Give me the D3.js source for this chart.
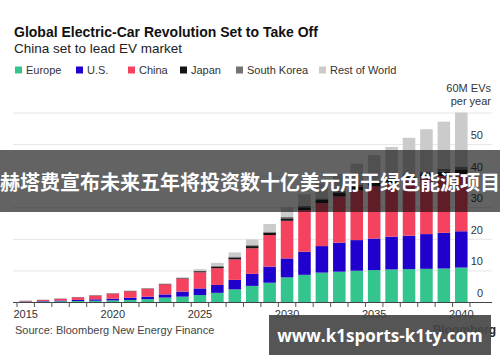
<!DOCTYPE html>
<html>
  <head>
    <meta charset="utf-8">
    <script src="https://d3js.org/d3.v7.min.js"></script>
    <style>
    body {
      margin: 0;
      background-color: #fff;
    }
    svg {
      display: block;
      font-family: "Liberation Sans", Arial, sans-serif;
    }
    .grid line {
      stroke: #e6e6e6;
    }
    .ylabel, .xlabel {
      font-size: 11px;
      fill: #333;
    }
    </style>
    <title>Global Electric-Car Revolution</title>
  </head>
  <body>
    <div class="chart"></div>

    <script>

      // years on the x axis
      var years = d3.range(2015, 2041);

      // EV sales, millions per year
      var europe = [0.1, 0.15, 0.22, 0.3, 0.4, 0.5, 0.65, 0.9, 1.4, 1.7, 2.2, 2.9, 4.0, 5.1, 6.1, 7.8, 8.6, 9.3, 9.6, 9.9, 10.1, 10.3, 10.4, 10.5, 10.6, 10.9];
      var us = [0.1, 0.15, 0.25, 0.35, 0.45, 0.55, 0.7, 0.8, 1.0, 1.6, 2.1, 2.5, 3.0, 3.8, 5.1, 6.0, 7.3, 8.4, 9.2, 9.7, 10.0, 10.4, 10.6, 11.0, 11.3, 11.5];
      var china = [0.15, 0.32, 0.52, 0.83, 1.2, 1.6, 2.05, 2.5, 3.2, 4.1, 5.1, 5.3, 6.5, 8.1, 10.0, 11.9, 13.2, 13.6, 14.6, 15.7, 16.5, 16.8, 17.4, 17.6, 18.0, 18.1];
      var japan = [0.03, 0.04, 0.06, 0.07, 0.08, 0.1, 0.1, 0.1, 0.12, 0.15, 0.35, 0.5, 0.6, 0.7, 0.75, 0.8, 0.9, 1.0, 1.1, 1.2, 1.2, 1.3, 1.3, 1.4, 1.4, 1.5];
      var southKorea = [0.01, 0.02, 0.02, 0.02, 0.03, 0.04, 0.04, 0.05, 0.05, 0.1, 0.15, 0.2, 0.3, 0.3, 0.35, 0.4, 0.4, 0.5, 0.6, 0.6, 0.7, 0.7, 0.8, 0.8, 0.9, 0.9];
      var restOfWorld = [0.01, 0.02, 0.03, 0.03, 0.04, 0.06, 0.06, 0.05, 0.1, 0.2, 0.5, 1.0, 1.3, 1.8, 2.4, 3.1, 3.7, 4.7, 5.4, 6.7, 8.0, 9.6, 11.5, 13.4, 14.9, 17.1];

      var seriesNames = ["Europe", "U.S.", "China", "Japan", "South Korea", "Rest of World"];
      var seriesValues = [europe, us, china, japan, southKorea, restOfWorld];
      var seriesColors = ["#33c58d", "#2000cc", "#f4425f", "#141414", "#737373", "#cbcbcb"];

      var yTicks = [0, 10, 20, 30, 40, 50];
      var xTickLabels = [2015, 2020, 2025, 2030, 2035, 2040];

      var width = 500, height = 362;

      var svg = d3.select(".chart").append("svg")
          .attr("width", width)
          .attr("height", height);

      // title block
      svg.append("text")
          .attr("x", 14).attr("y", 37)
          .attr("font-size", 14).attr("font-weight", "bold").attr("fill", "#111")
          .text("Global Electric-Car Revolution Set to Take Off");

      svg.append("text")
          .attr("x", 14).attr("y", 53)
          .attr("font-size", 13.5).attr("fill", "#222")
          .text("China set to lead EV market");

      // legend
      var legendX = [15, 76, 128, 180, 236, 319];
      var legend = svg.append("g")
        .selectAll("g")
        .data(seriesNames)
        .enter().append("g")
          .attr("transform", function(d, i) { return "translate(" + legendX[i] + ",70)"; });

      legend.append("rect")
          .attr("y", -3.5)
          .attr("width", 7).attr("height", 7)
          .attr("fill", function(d, i) { return seriesColors[i]; });

      legend.append("text")
          .attr("x", 11).attr("y", 4)
          .attr("font-size", 11).attr("fill", "#333")
          .text(function(d) { return d; });

      // scales
      var x = d3.scaleBand()
          .domain(years)
          .range([17, 470])
          .paddingInner(0.28)
          .paddingOuter(0.14);

      var y = d3.scaleLinear()
          .domain([0, 60])
          .range([302, 112.5]);

      // grid lines
      svg.append("g")
          .attr("class", "grid")
        .selectAll("line")
        .data(yTicks.slice(1).concat([60]))
        .enter().append("line")
          .attr("x1", 13).attr("x2", 492)
          .attr("y1", function(d) { return y(d) + 0.5; })
          .attr("y2", function(d) { return y(d) + 0.5; });

      // stacked bars
      var table = years.map(function(yr, i) {
        var row = { year: yr };
        seriesNames.forEach(function(name, k) { row[name] = seriesValues[k][i]; });
        return row;
      });

      var stack = d3.stack().keys(seriesNames)(table);

      svg.append("g")
        .selectAll("g")
        .data(stack)
        .enter().append("g")
          .attr("fill", function(d, i) { return seriesColors[i]; })
        .selectAll("rect")
        .data(function(d) { return d; })
        .enter().append("rect")
          .attr("x", function(d) { return x(d.data.year); })
          .attr("width", x.bandwidth())
          .attr("y", function(d) { return y(d[1]); })
          .attr("height", function(d) { return y(d[0]) - y(d[1]); });

      // x axis: baseline, ticks between bars, labels under bars
      svg.append("line")
          .attr("x1", 13).attr("x2", 492)
          .attr("y1", y(0) + 0.5).attr("y2", y(0) + 0.5)
          .attr("stroke", "#444");

      var step = x.step();
      svg.append("g")
        .selectAll("line")
        .data(d3.range(years.length + 1))
        .enter().append("line")
          .attr("x1", function(i) { return Math.round(x(years[0]) - step * 0.14) + i * step; })
          .attr("x2", function(i) { return Math.round(x(years[0]) - step * 0.14) + i * step; })
          .attr("y1", y(0)).attr("y2", y(0) + 5)
          .attr("stroke", "#555");

      svg.append("g")
        .selectAll("text")
        .data(xTickLabels)
        .enter().append("text")
          .attr("class", "xlabel")
          .attr("x", function(d) { return x(d) + x.bandwidth() / 2; })
          .attr("y", 318)
          .attr("text-anchor", "middle")
          .text(function(d) { return d; });

      // y labels on the right, sitting above their grid lines
      svg.append("g")
        .selectAll("text")
        .data(yTicks)
        .enter().append("text")
          .attr("class", "ylabel")
          .attr("x", 483)
          .attr("y", function(d) { return y(d) - 5; })
          .attr("text-anchor", "end")
          .text(function(d) { return d; });

      svg.append("text").attr("class", "ylabel")
          .attr("x", 491).attr("y", y(60) - 21)
          .attr("text-anchor", "end")
          .text("60M EVs");
      svg.append("text").attr("class", "ylabel")
          .attr("x", 491).attr("y", y(60) - 8)
          .attr("text-anchor", "end")
          .text("per year");

      // source + logo (the logo mostly sits under the watermark band)
      svg.append("text")
          .attr("x", 15).attr("y", 334)
          .attr("font-size", 11).attr("fill", "#444")
          .text("Source: Bloomberg New Energy Finance");

      svg.append("text")
          .attr("x", 496).attr("y", 334)
          .attr("text-anchor", "end")
          .attr("font-size", 12).attr("font-weight", "bold").attr("fill", "#222")
          .text("Bloomberg");

      // overlay banners
      svg.append("rect")
          .attr("x", 0).attr("y", 150)
          .attr("width", 500).attr("height", 62)
          .attr("fill", "rgba(8,8,8,0.63)");

      svg.append("text")
          .attr("x", 0).attr("y", 181)
          .attr("dominant-baseline", "central")
          .attr("font-family", "'Noto Sans CJK SC', sans-serif")
          .attr("font-size", 20).attr("font-weight", "bold").attr("fill", "#fff")
          .text("赫塔费宣布未来五年将投资数十亿美元用于绿色能源项目");

      svg.append("rect")
          .attr("x", 269).attr("y", 315)
          .attr("width", 222).attr("height", 40)
          .attr("fill", "rgba(70,70,70,0.92)");

      svg.append("text")
          .attr("x", 380).attr("y", 342)
          .attr("text-anchor", "middle")
          .attr("font-family", "'Open Sans', sans-serif")
          .attr("font-size", 17).attr("font-weight", "bold").attr("fill", "#fff")
          .text("www.k1sports-k1ty.com");

    </script>
  </body>
</html>
